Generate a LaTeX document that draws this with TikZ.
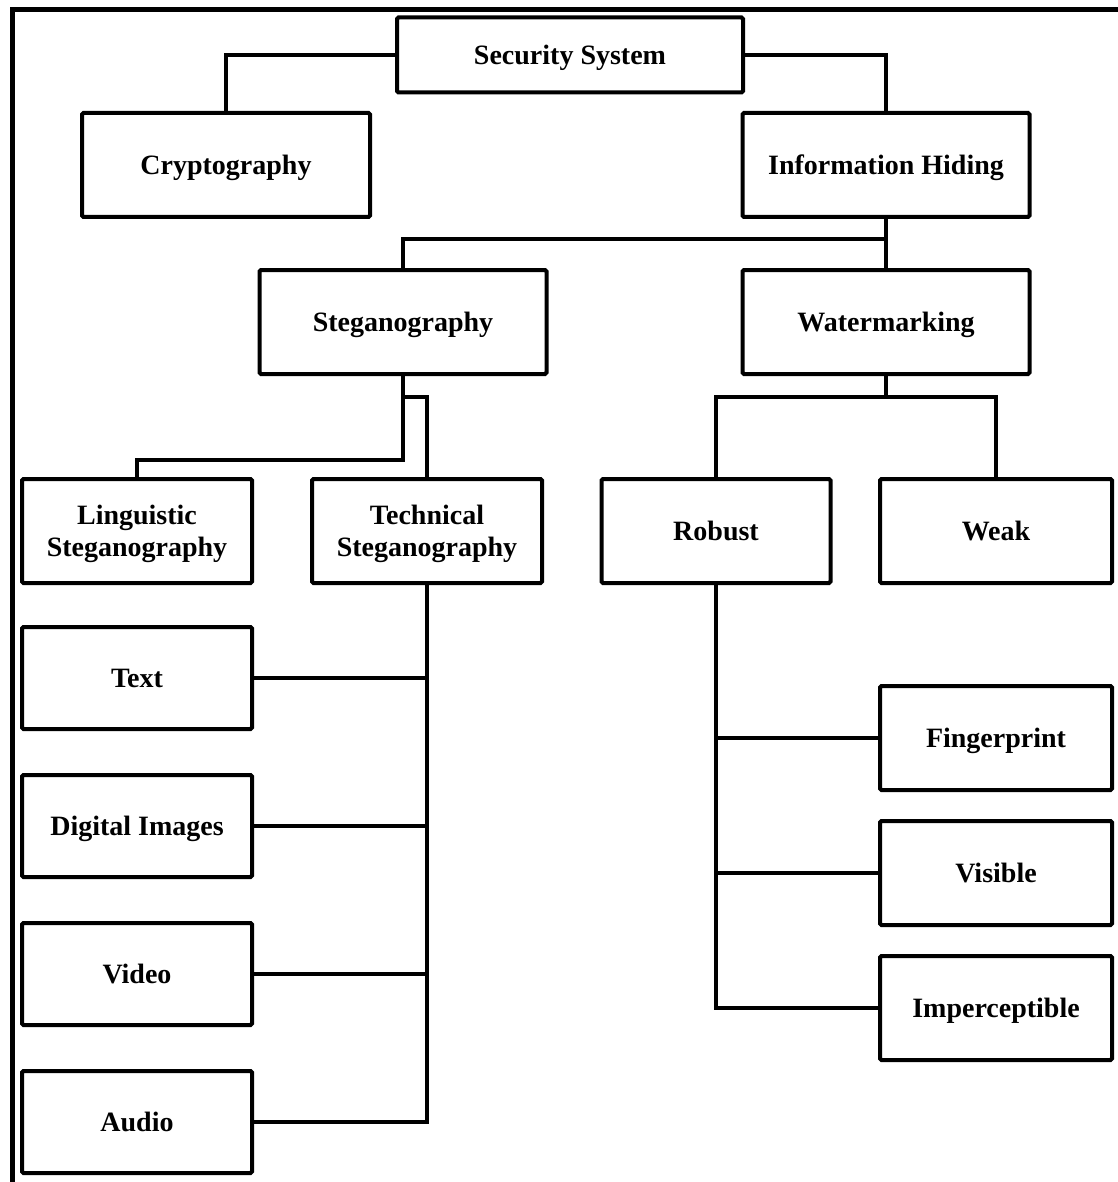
\documentclass[tikz,border=0pt]{standalone}
\usepackage{fontspec}
\setmainfont{Liberation Serif}
\begin{document}
\begin{tikzpicture}[x=1pt,y=-1pt,
  box/.style={draw,line width=4pt,rounded corners=1.5pt,inner sep=0pt,
    minimum width=#1,minimum height=104pt,align=center,
    text height=18.6pt,text depth=0pt,
    font=\fontsize{28}{32}\selectfont\bfseries},
  box/.default=288pt,
  twoline/.style={text height=50.6pt},
  link/.style={line width=3.6pt,line join=miter},
  frame/.style={line width=5pt,line cap=rect}]
\useasboundingbox (0,0) rectangle (1117,1182);

% outer frame
\draw[frame] (12,1182) -- (12,10) -- (1117,10);

% top levels
\node[box=346pt,minimum height=75pt] (sec) at (570,55) {Security System};
\node[box] (crypt) at (226,165) {Cryptography};
\node[box=287pt] (info) at (886,165) {Information Hiding};
\node[box=287pt] (steg) at (403,322) {Steganography};
\node[box=287pt] (water) at (886,322) {Watermarking};

% second level
\node[box=230pt,twoline] (ling) at (137,531) {Linguistic\\Steganography};
\node[box=230pt,twoline] (tech) at (427,531) {Technical\\Steganography};
\node[box=229pt] (robust) at (716,531) {Robust};
\node[box=232pt] (weak) at (996,531) {Weak};

% technical steganography media
\node[box=230pt,minimum height=102pt] (text) at (137,678) {Text};
\node[box=230pt,minimum height=102pt] (digital) at (137,826) {Digital Images};
\node[box=230pt,minimum height=102pt] (video) at (137,974) {Video};
\node[box=230pt,minimum height=102pt] (audio) at (137,1122) {Audio};

% robust watermark kinds
\node[box=232pt] (finger) at (996,738) {Fingerprint};
\node[box=232pt] (visible) at (996,873) {Visible};
\node[box=232pt] (imperc) at (996,1008) {Imperceptible};

% connectors
\draw[link] (crypt.north) |- (sec.west);
\draw[link] (info.north) |- (sec.east);
\draw[link] (info.south) -- (water.north);
\draw[link] (info.south) -- ++(0,20) -| (steg.north);

\draw[link] (steg.south) -- ++(0,84) -| (ling.north);
\draw[link] ([yshift=-21pt]steg.south) -| (tech.north);
\draw[link] (tech.south) |- (audio.east);
\draw[link] (text.east) -- (text.east -| tech.south);
\draw[link] (digital.east) -- (digital.east -| tech.south);
\draw[link] (video.east) -- (video.east -| tech.south);

\draw[link] (water.south) -- ++(0,21) coordinate (wj);
\draw[link] (wj) -| (robust.north);
\draw[link] (wj) -| (weak.north);
\draw[link] (robust.south) |- (imperc.west);
\draw[link] (finger.west) -- (finger.west -| robust.south);
\draw[link] (visible.west) -- (visible.west -| robust.south);
\end{tikzpicture}
\end{document}
